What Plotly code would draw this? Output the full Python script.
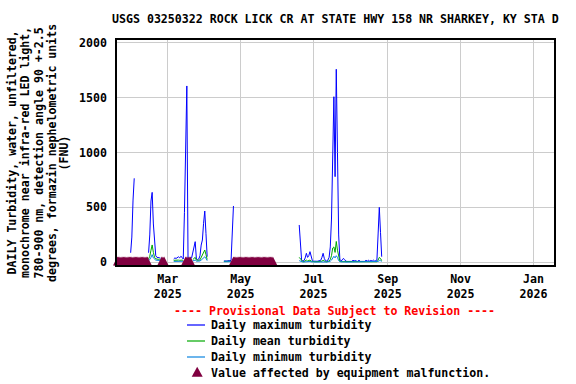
import pandas as pd
import plotly.graph_objects as go

# ---------------- text ----------------
title_text = "USGS 03250322 ROCK LICK CR AT STATE HWY 158 NR SHARKEY, KY STA D"
y_title_lines = [
    "DAILY Turbidity, water, unfiltered,",
    "monochrome near infra-red LED light,",
    "780-900 nm, detection angle 90 +-2.5",
    "degrees, formazin nephelometric units",
    "(FNU)",
]
provisional_text = "---- Provisional Data Subject to Revision ----"
legend_names = [
    "Daily maximum turbidity",
    "Daily mean turbidity",
    "Daily minimum turbidity",
    "Value affected by equipment malfunction.",
]

# ---------------- axes ----------------
x_tick_dates = ["2025-03-01", "2025-05-01", "2025-07-01", "2025-09-01", "2025-11-01", "2026-01-01"]
x_tick_labels = ["Mar<br>2025", "May<br>2025", "Jul<br>2025", "Sep<br>2025", "Nov<br>2025", "Jan<br>2026"]
y_tick_vals = [0, 500, 1000, 1500, 2000]

# ---------------- data (daily values, FNU) ----------------
seg1_start = "2025-01-29"
seg1_max = [87, 230, 567, 765]
seg1_mean = [None, None, None, None]
seg1_min = [None, None, None, None]

seg2_start = "2025-02-13"
seg2_max = [87, 249, 558, 637, 349, 142, 60, 45, 40, 42, 38]
seg2_mean = [30, 55, 110, 158, 90, 45, 32, 28, 27, 28, 26]
seg2_min = [15, 25, 45, 70, 40, 25, 20, 18, 18, 18, 17]

seg3_start = "2025-03-06"
seg3_max = [30, 40, 35, 45, 50, 40, 55, 45, 30,
            455, 1220, 1606, 40, 35, 30, 40,
            97, 157, 188, 30, 25, 30, 60, 157, 203, 355, 467, 264, 51]
seg3_mean = [18, 20, 18, 22, 20, 18, 22, 20, 18,
             None, None, None, None, None, None, None,
             25, 40, 45, 20, 18, 18, 22, 45, 60, 90, 112, 70, 25]
seg3_min = [8, 9, 8, 10, 9, 8, 10, 9, 8,
            None, None, None, None, None, None, None,
            12, 18, 20, 10, 9, 9, 12, 20, 30, 40, 50, 35, 15]

seg4_start = "2025-04-17"
seg4_max = [12, 10, 12, 14, 12, 15, 18, 270, 513]
seg4_mean = [8, 7, 8, 9, 8, 9, 10, None, None]
seg4_min = [5, 5, 5, 6, 5, 6, 6, None, None]

seg5_start = "2025-06-19"
seg5_max = [340, 173, 20, 12, 15, 40, 82, 45, 60, 97, 40, 15,
            10, 12, 10, 9, 12, 10, 18, 45, 82, 35, 15, 12, 20, 45, 140, 394, 1130, 1508, 780,
            1758, 1000, 249, 25, 15, 20, 36, 25, 10, 8, 7, 8,
            7, 8, 20, 10, 21, 9, 8, 20, 8, 7, 8, 7, 8, 21, 10, 20, 9, 18, 10, 20, 12, 15, 20,
            258, 500, 273, 51]
seg5_mean = [45, 30, 10, 6, 6, 12, 20, 12, 15, 20, 10, 6,
             5, 5, 5, 5, 5, 5, 6, 10, 18, 10, 6, 5, 6, 12, 25, 60, 130, 140, 90,
             190, 110, 40, 10, 6, 6, 10, 8, 5, 4, 4, 4,
             4, 4, 5, 4, 5, 4, 4, 5, 4, 4, 4, 4, 4, 5, 4, 5, 4, 5, 4, 5, 4, 5, 5,
             20, 45, 35, 15]
seg5_min = [15, 10, 4, 3, 3, 5, 8, 5, 6, 8, 4, 3,
            2, 2, 2, 2, 2, 2, 3, 4, 6, 4, 3, 2, 3, 5, 10, 20, 40, 55, 40,
            60, 45, 15, 5, 3, 3, 4, 3, 2, 2, 2, 2,
            2, 2, 2, 2, 2, 2, 2, 2, 2, 2, 2, 2, 2, 2, 2, 2, 2, 2, 2, 2, 2, 2, 2,
            8, 15, 15, 8]

# equipment malfunction periods (first day, last day)
malfunction_starts = ["2025-01-18", "2025-02-24", "2025-03-16", "2025-04-25"]
malfunction_ends = ["2025-02-12", "2025-02-26", "2025-03-20", "2025-05-28"]

# ---------------- assemble daily series (gaps -> NaN) ----------------
days = pd.date_range("2025-01-17", "2025-09-02", freq="D")
s_max = pd.Series(float("nan"), index=days)
s_mean = pd.Series(float("nan"), index=days)
s_min = pd.Series(float("nan"), index=days)

segments = [
    (seg1_start, seg1_max, seg1_mean, seg1_min),
    (seg2_start, seg2_max, seg2_mean, seg2_min),
    (seg3_start, seg3_max, seg3_mean, seg3_min),
    (seg4_start, seg4_max, seg4_mean, seg4_min),
    (seg5_start, seg5_max, seg5_mean, seg5_min),
]
for start, vmax, vmean, vmin in segments:
    idx = pd.date_range(start, periods=len(vmax), freq="D")
    s_max.loc[idx] = [float("nan") if v is None else v for v in vmax]
    s_mean.loc[idx] = [float("nan") if v is None else v for v in vmean]
    s_min.loc[idx] = [float("nan") if v is None else v for v in vmin]

mal_dates = []
for a, b in zip(malfunction_starts, malfunction_ends):
    mal_dates.extend(pd.date_range(a, b, freq="D"))
mal_y = [0] * len(mal_dates)

# ---------------- styles ----------------
C_MAX = "#0000FF"
C_MEAN = "#00A800"
C_MIN = "#0A84E0"
C_MAL = "#800040"
FONT = "DejaVu Sans Mono"
FS = 11.6
TICKFONT = dict(family=FONT, size=FS, color="black", weight="bold")

W, H = 576, 384
L, R, T, B = 117, 554, 40, 265


def px(xp):
    return (xp - L) / (R - L)


def py(yp):
    return (B - yp) / (B - T)


fig = go.Figure()
fig.add_trace(go.Scatter(x=days, y=s_max, mode="lines", line=dict(color=C_MAX, width=1),
                         name=legend_names[0], showlegend=False))
fig.add_trace(go.Scatter(x=days, y=s_mean, mode="lines", line=dict(color=C_MEAN, width=1),
                         name=legend_names[1], showlegend=False))
fig.add_trace(go.Scatter(x=days, y=s_min, mode="lines", line=dict(color=C_MIN, width=1),
                         name=legend_names[2], showlegend=False))
# malfunction flags on their own hidden flag axis (apex of each marker at flag level 0)
fig.add_trace(go.Scatter(x=mal_dates, y=mal_y, mode="markers", cliponaxis=False, yaxis="y2",
                         marker=dict(symbol="arrow-up", size=9, color=C_MAL, line=dict(width=0)),
                         name=legend_names[3], showlegend=False))

annotations = []
annotations.append(dict(text=title_text, x=px(335), y=py(19), xref="paper", yref="paper",
                        showarrow=False, xanchor="center", yanchor="middle",
                        font=dict(family=FONT, size=FS, color="black", weight="bold")))
ytitle_x = [11.5, 25, 38.5, 52, 63.5]
for t, xp in zip(y_title_lines, ytitle_x):
    annotations.append(dict(text=t, x=px(xp), y=py(153), xref="paper", yref="paper",
                            showarrow=False, xanchor="center", yanchor="middle", textangle=-90,
                            font=dict(family=FONT, size=FS, color="black", weight="bold")))
annotations.append(dict(text=provisional_text, x=px(334), y=py(311), xref="paper", yref="paper",
                        showarrow=False, xanchor="center", yanchor="middle",
                        font=dict(family=FONT, size=FS, color="#FF0000", weight="bold")))
row_y = [325, 341, 357, 372.5]
for name, ry in zip(legend_names, row_y):
    annotations.append(dict(text=name, x=px(210), y=py(ry), xref="paper", yref="paper",
                            showarrow=False, xanchor="left", yanchor="middle", borderpad=0,
                            font=dict(family=FONT, size=FS, color="black", weight="bold")))

shapes = []
for c, ry in zip([C_MAX, C_MEAN, C_MIN], row_y[:3]):
    shapes.append(dict(type="line", xref="paper", yref="paper",
                       x0=px(187), x1=px(205), y0=py(ry), y1=py(ry),
                       line=dict(color=c, width=1.2)))
tx, ty = 197.2, 372
shapes.append(dict(type="path", xref="paper", yref="paper", fillcolor=C_MAL, line=dict(width=0),
                   path="M {} {} L {} {} L {} {} Z".format(px(tx - 5.5), py(ty + 4.7), px(tx + 5.5), py(ty + 4.7),
                                                           px(tx), py(ty - 5.3))))

fig.update_layout(
    width=W, height=H,
    margin=dict(l=L, r=W - R, t=T, b=H - B, autoexpand=False),
    paper_bgcolor="white", plot_bgcolor="white",
    font=dict(family=FONT, size=FS, color="black", weight="bold"),
    annotations=annotations, shapes=shapes, showlegend=False,
    xaxis=dict(
        type="date", range=["2025-01-17 14:00", "2026-01-18 03:00"],
        tickmode="array", tickvals=x_tick_dates, ticktext=x_tick_labels,
        showgrid=True, gridcolor="#cccccc", gridwidth=1,
        showline=True, linecolor="black", linewidth=1.5, mirror=True,
        ticks="", ticklabelstandoff=2, zeroline=False, tickfont=TICKFONT,
    ),
    yaxis=dict(
        range=[-24.6, 2024.6], tickmode="array", tickvals=y_tick_vals,
        showgrid=True, gridcolor="#cccccc", gridwidth=1,
        showline=True, linecolor="black", linewidth=1.5, mirror=True,
        ticks="", ticklabelstandoff=6, zeroline=False, tickfont=TICKFONT,
    ),
    yaxis2=dict(overlaying="y", range=[-1, -1 + 225 / 8.5], visible=False,
                showgrid=False, zeroline=False),
)

fig.write_html("out.html")
